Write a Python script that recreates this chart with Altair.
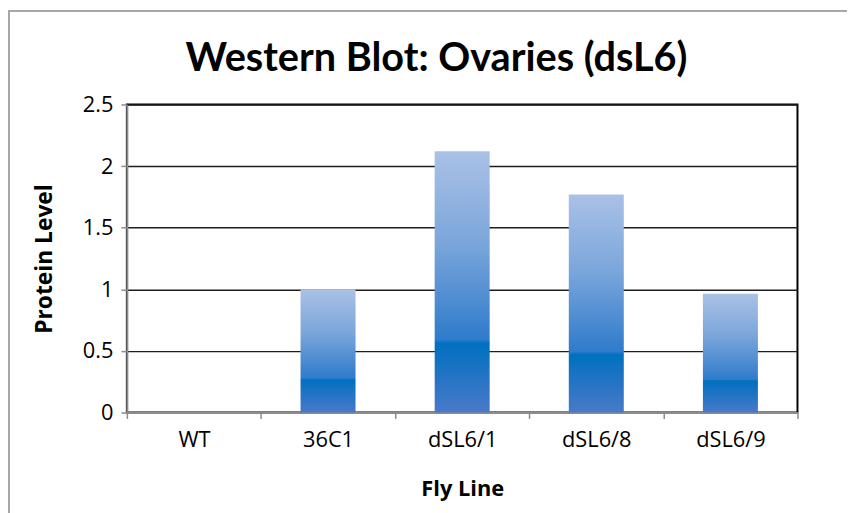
import altair as alt
import pandas as pd

lines = ["WT", "36C1", "dSL6/1", "dSL6/8", "dSL6/9"]
levels = [0.0, 1.0, 2.12, 1.77, 0.965]

df = pd.DataFrame({"line": lines, "level": levels})

FONT = "Open Sans"
TITLE_FONT = "Lato"

gradient = alt.Gradient(
    gradient="linear",
    stops=[
        alt.GradientStop(color="#AAC1E6", offset=0),
        alt.GradientStop(color="#7BA6DB", offset=0.35),
        alt.GradientStop(color="#2F7BCB", offset=0.72),
        alt.GradientStop(color="#0070C0", offset=0.735),
        alt.GradientStop(color="#4A79C9", offset=1),
    ],
    x1=0, x2=0, y1=0, y2=1,
)

bars = alt.Chart(df).mark_bar(color=gradient, width={"band": 0.41}).encode(
    x=alt.X(
        "line:N",
        sort=lines,
        scale=alt.Scale(paddingInner=0, paddingOuter=0),
        axis=alt.Axis(
            title="Fly Line",
            tickBand="extent",
            labelAngle=0,
            labelFontSize=22,
            labelPadding=11,
            titlePadding=29,
        ),
    ),
    y=alt.Y(
        "level:Q",
        scale=alt.Scale(domain=[0, 2.5]),
        axis=alt.Axis(
            title="Protein Level",
            values=[0, 0.5, 1, 1.5, 2, 2.5],
            format="~g",
            labelFontSize=22,
            labelPadding=8,
            titlePadding=26,
            titleFontSize=23,
            grid=True,
        ),
    ),
)

frame = alt.Chart(df).mark_rect(
    fill="white", fillOpacity=0, stroke="#A6A6A6", strokeWidth=1.5
).encode(
    x=alt.value(-119),
    x2=alt.value(900),
    y=alt.value(-94.5),
    y2=alt.value(700),
)

chart = (
    alt.layer(frame, bars)
    .properties(
        width=677,
        height=311,
        autosize=alt.AutoSizeParams(type="none"),
        padding={"left": 120, "top": 95, "right": 50, "bottom": 99},
        title=alt.TitleParams(
            "Western Blot: Ovaries (dsL6)",
            font=TITLE_FONT,
            fontSize=40,
            fontWeight="bold",
            color="black",
            anchor="middle",
            baseline="alphabetic",
            dx=-26,
            offset=-101,
        ),
    )
    .configure(font=FONT)
    .configure_view(stroke="black", strokeWidth=2)
    .configure_axis(
        labelFont=FONT,
        titleFont=FONT,
        labelColor="black",
        titleColor="black",
        titleFontSize=22,
        titleFontWeight="bold",
        domainColor="#8C8C8C",
        domainWidth=2,
        tickColor="#8C8C8C",
        tickWidth=1.5,
        tickSize=6,
        gridColor="#1E1E1E",
        gridWidth=1.5,
    )
)

chart.save("out.html", embed_options={"renderer": "svg", "actions": False})
